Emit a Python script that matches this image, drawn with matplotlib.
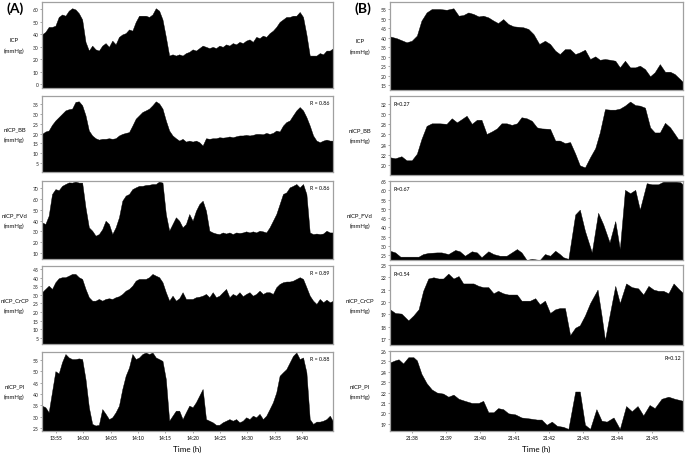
import matplotlib
matplotlib.use("Agg")
import matplotlib.pyplot as plt
import numpy as np

plt.rcParams["font.family"] = ["Lato", "DejaVu Sans"]

FIG_W, FIG_H = 685, 456

# ---------------- panel (A): one reading every 0.613 min from 13:52.4 (x = minutes after 13:00)
A_START = 52.4
A_STEP = 0.613
A_XLIM = (52.4, 105.7)
A_TICKS = [55, 60, 65, 70, 75, 80, 85, 90, 95, 100]
A_TICK_LABELS = ["13:55", "14:00", "14:05", "14:10", "14:15", "14:20", "14:25", "14:30", "14:35", "14:40"]

ICP_A = [40, 42, 46, 46, 47, 54, 56, 55, 59, 61,
         60, 57, 52, 34, 27, 31, 28, 27, 31, 33,
         30, 35, 32, 38, 40, 41, 44, 43, 50, 55,
         55, 55, 54, 56, 61, 59, 52, 38, 23, 24,
         23, 24, 23, 25, 26, 28, 27, 29, 31, 30,
         29, 30, 29, 31, 30, 32, 31, 33, 32, 34,
         33, 35, 36, 34, 38, 37, 39, 38, 41, 43,
         46, 50, 52, 54, 54, 55, 55, 58, 54, 40,
         23, 23, 23, 25, 24, 27, 27, 29]
BB_A = [19.8, 21, 21.5, 24.4, 26.6, 28.3, 30, 31.7, 32.3, 32.6,
        36, 36.3, 34.3, 29.2, 21.5, 19, 17.6, 16.9, 17.3, 17.3,
        17.6, 17.3, 17.6, 19, 19.8, 20.3, 20.7, 24, 27.5, 29.2,
        30.9, 31.7, 32.6, 34.3, 36.3, 35.2, 32.6, 26.6, 21.5, 19,
        17.6, 16.4, 17.3, 15.9, 16.4, 15.9, 16.4, 15.6, 13.9, 17.6,
        17.3, 17.6, 17.6, 18.1, 17.9, 18.1, 18.5, 18.1, 18.6, 19,
        19, 19.3, 19, 19.3, 19.8, 19.8, 19.6, 20.3, 19.8, 20.3,
        21.5, 21, 24, 25.8, 26.6, 29.2, 31.7, 33.4, 31.7, 28.3,
        24, 19, 16.4, 15.6, 16.4, 16.9, 16.4, 16.4]
FVD_A = [38.3, 36.8, 44.5, 64.5, 69, 68, 72, 73.7, 75.2, 75,
         76, 75, 75, 52, 33.7, 30.6, 26, 27.5, 32, 39.8,
         36.8, 27.5, 33.7, 43, 58.3, 63, 64.5, 69, 70.6, 72,
         72, 72.8, 73, 73.7, 73.7, 76, 75, 46, 30.6, 36.8,
         43, 39.8, 33.7, 36.8, 46, 39.8, 49, 55.2, 58.3, 49,
         30.6, 29, 28, 27.5, 29, 28, 29, 27.5, 29, 28.5,
         29, 30, 29, 30, 29, 30.6, 30, 29, 33.7, 39.8,
         46, 55.2, 64.5, 66, 70.6, 72, 73.7, 70.6, 73.7, 64.5,
         29, 27.5, 28, 27.5, 28, 30.6, 29, 29]
CRCP_A = [31.5, 33.4, 35.3, 33.4, 37.3, 39.6, 40.2, 40.2, 41.1, 42.1,
          42.1, 40.2, 39.2, 33.4, 28.6, 26.6, 26.6, 27.6, 26.6, 27.6,
          28, 27.6, 28.6, 29.2, 30.5, 32.4, 33.4, 35.3, 38.2, 39.2,
          39.2, 39.2, 40.2, 42.1, 41.1, 40.2, 37.3, 31.5, 26.6, 29.5,
          26.6, 28, 31.5, 27.6, 27.6, 27.6, 28.6, 28.9, 29.5, 30.5,
          28.6, 31.5, 28.6, 29.5, 31.5, 33.4, 28.6, 30.5, 29.5, 31.5,
          29.2, 30.5, 31.5, 29.5, 30.5, 32.4, 30.5, 31.5, 31.5, 30.5,
          34.4, 36.3, 37.3, 37.7, 37.7, 38.2, 39.2, 40.2, 39.2, 34.4,
          29.5, 26.6, 24.7, 27.6, 25.7, 27.2, 25.7, 26.6]
PI_A = [34.9, 34.2, 32, 41, 50, 49, 54, 57.5, 56, 55.3,
        55.3, 55.6, 55.3, 46.5, 34.2, 26.9, 26.2, 26.5, 33.4, 31.3,
        29, 29.8, 32, 34.9, 42.2, 48, 51.6, 57.5, 55.3, 56,
        57.5, 58.2, 57.5, 58.2, 56, 55.3, 54.5, 46.5, 28.3, 30.5,
        32.7, 32.7, 29, 32, 34.9, 34.2, 36.4, 39.3, 42.2, 29,
        28.3, 27.6, 26.5, 26.5, 27.6, 28.3, 29, 28.3, 29, 27.6,
        28.3, 29.8, 29, 30.5, 29.8, 31.3, 29, 30.5, 33.4, 36.4,
        40.7, 48, 49.5, 50.9, 53.8, 56.7, 58.2, 55.3, 56, 49.5,
        29, 26.9, 27.9, 27.9, 28.3, 29, 30.5, 27.9]

A_SERIES = [ICP_A, BB_A, FVD_A, CRCP_A, PI_A]
A_YLIMS = [(-3, 66), (0.5, 39), (4.5, 76.5), (1.5, 46.7), (23.8, 58.4)]
A_YTICKS = [range(0, 61, 10), range(5, 36, 5), range(10, 71, 10), range(5, 46, 5), range(25, 56, 5)]
A_R = [None, "R = 0.86", "R = 0.86", "R = 0.89", "R = 0.88"]

# ---------------- panel (B): vertices, x = seconds after 21:37:00
B_XLIM = (22, 534.5)
B_TICKS = [60, 120, 180, 240, 300, 360, 420, 480]
B_TICK_LABELS = ["21:38", "21:39", "21:40", "21:41", "21:42", "21:43", "21:44", "21:45"]

ICP_B_T = [22, 34, 51, 60, 69, 77, 86, 95, 109, 121, 133, 142, 150, 159, 168, 177, 185, 194, 203, 211,
           220, 229, 238, 255, 264, 273, 283, 293, 302, 311, 319, 328, 337, 346, 354, 363, 372, 381, 389, 398,
           407, 416, 424, 433, 442, 451, 459, 468, 477, 485, 494, 503, 512, 520, 529, 535]
ICP_B = [40.6, 39.6, 37.5, 38.3, 41, 48.9, 53.2, 55, 55, 54.6, 55.4, 51.5, 51.8, 53.2, 52.4, 51.1, 51.5, 50.6, 48.9, 47.6,
         49.7, 47.1, 45.9, 45.4, 44.5, 41.8, 36.6, 38.3, 36.6, 33.1, 31.3, 33.9, 33.9, 31.3, 32.2, 33.6, 28.7, 30.1, 28.3, 28.7,
         28.3, 27.8, 24.3, 27.8, 24.3, 24.3, 25.2, 23.4, 19.6, 21.7, 26, 22, 22, 20.8, 18.2, 16.4]

BB_B_T = [22, 31, 42, 51, 60, 69, 77, 86, 95, 109, 121, 130, 139, 147, 156, 165, 174, 182, 191, 200,
          209, 217, 226, 235, 244, 252, 261, 270, 279, 287, 302, 311, 319, 328, 337, 346, 354, 363, 372, 381,
          389, 398, 407, 416, 424, 433, 442, 451, 459, 468, 477, 485, 494, 503, 512, 520, 526, 535]
BB_B = [21.5, 21.3, 21.7, 20.9, 20.9, 22.2, 25.1, 27.7, 28.2, 28.2, 28.1, 29.2, 28.4, 29, 29.7, 28.1, 28.9, 28.9, 26.1, 26.6,
        27.2, 28.2, 28.2, 27.9, 28.2, 29.4, 29.2, 28.7, 27.4, 27.2, 27.1, 24.8, 24.8, 24.3, 24.5, 22.2, 19.9, 19.5, 21.5, 23.3,
        26.4, 31, 30.9, 30.9, 31.1, 31.7, 32.5, 31.8, 31.7, 31.3, 27.4, 26.4, 26.4, 28.3, 27.4, 26.1, 25.1, 25.1]

FVD_B_T = [22, 31, 40, 48, 63, 72, 80, 89, 104, 112, 124, 136, 144, 153, 165, 174, 182, 194, 203, 214,
           226, 235, 244, 252, 261, 270, 284, 293, 302, 311, 319, 325, 334, 346, 354, 363, 375, 386, 395, 406,
           416, 424, 433, 442, 451, 459, 471, 480, 491, 500, 512, 523, 530, 535]
FVD_B = [27.3, 26.4, 24.1, 24.1, 24.1, 24.1, 25.5, 26.1, 26.4, 26.4, 25.5, 27.7, 27, 24.6, 27, 26.4, 23.8, 27, 25.5, 24.6,
         24.6, 26.4, 28.2, 26.4, 22.3, 22.9, 22.3, 25.5, 24.6, 27.3, 25.5, 23.8, 22.9, 46.9, 49.5, 38, 26.4, 47.8, 41.5, 31.8,
         43.3, 28.2, 60.2, 58.4, 60.2, 49.5, 63.8, 63.2, 63.2, 64.6, 64.6, 64.6, 64.3, 62.9]

CRCP_B_T = [22, 31, 42, 54, 63, 72, 80, 89, 98, 107, 115, 124, 133, 142, 150, 159, 168, 177, 185, 194,
            203, 211, 220, 229, 244, 252, 267, 276, 284, 293, 302, 311, 319, 328, 337, 346, 354, 363, 372, 385,
            392, 398, 406, 416, 424, 435, 445, 456, 465, 474, 483, 491, 500, 509, 518, 526, 535]
CRCP_B = [19.4, 19.1, 19.05, 18.5, 18.9, 19.4, 20.9, 21.9, 22, 21.9, 21.9, 22.3, 21.9, 22.1, 21.5, 21.5, 21.5, 21.3, 21.2, 21.2,
          20.7, 20.9, 20.7, 20.6, 20.6, 20.1, 20.1, 20.3, 19.8, 20.1, 19.1, 19.4, 19.5, 19.5, 17.3, 17.9, 18.1, 18.9, 19.9, 21,
          18.9, 16.9, 18.9, 21.3, 19.9, 21.5, 21.2, 21.1, 20.6, 21.3, 21, 20.9, 20.9, 20.7, 21.5, 21.1, 20.7]

PI_B_T = [22, 31, 37, 45, 54, 63, 69, 77, 86, 95, 104, 115, 124, 133, 142, 153, 165, 177, 185, 194,
          203, 211, 220, 229, 241, 252, 267, 279, 287, 296, 305, 314, 325, 334, 346, 354, 363, 372, 383, 392,
          401, 413, 424, 435, 445, 455, 465, 476, 485, 497, 509, 520, 535]
PI_B = [24.9, 25.1, 25.2, 24.8, 25.4, 25.4, 25.1, 23.8, 22.9, 22.3, 22, 21.9, 21.6, 21.8, 21.4, 21.2, 21, 21, 21.2, 20.1,
        20.1, 20.5, 20.4, 20, 19.9, 19.6, 19.5, 19.4, 19.4, 18.9, 19.2, 18.8, 18.7, 18.5, 22.1, 22.1, 18.9, 18.5, 20.4, 19.3,
        19.2, 19.6, 18.5, 20.7, 20.2, 20.7, 19.8, 20.8, 20.5, 21.4, 21.6, 21.4, 21.2]

B_SERIES = [(ICP_B_T, ICP_B), (BB_B_T, BB_B), (FVD_B_T, FVD_B), (CRCP_B_T, CRCP_B), (PI_B_T, PI_B)]
B_YLIMS = [(12.4, 58.7), (18, 33.6), (22.3, 64.6), (16.5, 23.0), (18.3, 25.9)]
B_YTICKS = [range(15, 56, 5), range(20, 33, 2), range(25, 66, 5), range(17, 24), range(19, 27)]
B_R = [None, "R=0.27", "R=0.67", "R=0.54", "R=0.12"]

ROW_NAMES = ["ICP", "nICP_BB", "nICP_FVd", "nICP_CrCP", "nICP_PI"]

# pixel boxes (left, top, right, bottom)
A_BOXES = [(42, 3, 333, 89), (42, 97, 333, 173), (42, 182, 333, 260), (42, 267, 333, 345), (42, 353, 333, 432)]
B_BOXES = [(390, 3, 683, 91), (390, 97, 683, 176), (390, 182, 683, 261), (390, 266, 683, 346), (390, 352, 683, 432)]


def px_axes(fig, box):
    left, top, right, bottom = box
    return fig.add_axes([left / FIG_W, 1 - bottom / FIG_H, (right - left) / FIG_W, (bottom - top) / FIG_H])


def draw_trace(ax, t, values, xlim, ylim, yticks):
    ax.set_xlim(*xlim)
    ax.set_ylim(*ylim)
    ax.fill_between(t, values, ylim[0], color="black", linewidth=0.3, edgecolor="black")
    ax.set_yticks(list(yticks))
    ax.tick_params(axis="y", labelsize=3.6, length=1.5, width=0.4, pad=0.8, labelcolor="#222222", color="#666666")
    ax.tick_params(axis="x", bottom=False, labelbottom=False)
    for spine in ax.spines.values():
        spine.set_color("#a0a0a0")
        spine.set_linewidth(0.9)


def row_label(fig, x_px, box, name):
    y_px = (box[1] + box[3]) / 2
    fig.text(x_px / FIG_W, 1 - y_px / FIG_H, f"{name}\n(mmHg)", ha="center", va="center",
             fontsize=4.3, linespacing=2.1, color="#111111")


fig = plt.figure(figsize=(FIG_W / 100, FIG_H / 100), dpi=100)

a_times = A_START + A_STEP * np.arange(len(ICP_A))
for i, (values, box) in enumerate(zip(A_SERIES, A_BOXES)):
    ax = px_axes(fig, box)
    draw_trace(ax, a_times, values, A_XLIM, A_YLIMS[i], A_YTICKS[i])
    row_label(fig, 14.5, box, ROW_NAMES[i])
    if A_R[i]:
        ax.text(0.988, 0.92, A_R[i], transform=ax.transAxes, ha="right", va="center", fontsize=3.8)
    if i == len(A_SERIES) - 1:
        ax.set_xticks(A_TICKS)
        ax.set_xticklabels(A_TICK_LABELS)
        ax.tick_params(axis="x", bottom=True, labelbottom=True, labelsize=3.6, length=1.5,
                       width=0.4, pad=1.5, color="#666666")
        ax.set_xlabel("Time (h)", fontsize=5.8, labelpad=3)

for i, ((t, values), box) in enumerate(zip(B_SERIES, B_BOXES)):
    ax = px_axes(fig, box)
    draw_trace(ax, t, values, B_XLIM, B_YLIMS[i], B_YTICKS[i])
    row_label(fig, 360, box, ROW_NAMES[i])
    if B_R[i]:
        if i == len(B_SERIES) - 1:
            ax.text(0.995, 0.92, B_R[i], transform=ax.transAxes, ha="right", va="center", fontsize=3.8)
        else:
            ax.text(0.012, 0.9, B_R[i], transform=ax.transAxes, ha="left", va="center", fontsize=3.8)
    if i == len(B_SERIES) - 1:
        ax.set_xticks(B_TICKS)
        ax.set_xticklabels(B_TICK_LABELS)
        ax.tick_params(axis="x", bottom=True, labelbottom=True, labelsize=3.6, length=1.5,
                       width=0.4, pad=1.5, color="#666666")
        ax.set_xlabel("Time (h)", fontsize=5.8, labelpad=3)

fig.text(15 / FIG_W, 1 - 9 / FIG_H, "(A)", ha="center", va="center", fontsize=10, fontweight="bold")
fig.text(363 / FIG_W, 1 - 9 / FIG_H, "(B)", ha="center", va="center", fontsize=10, fontweight="bold")

fig.savefig("out.png", dpi=100)
